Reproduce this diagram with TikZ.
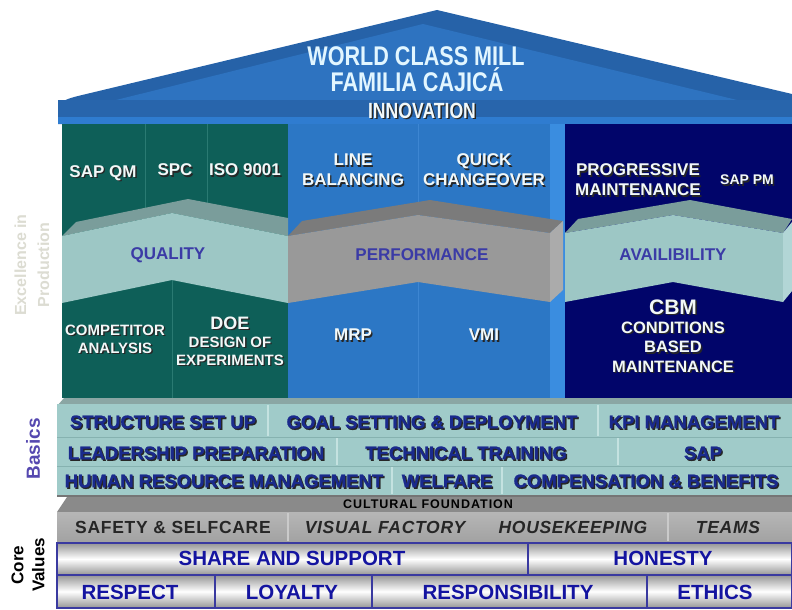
\documentclass[tikz,border=0pt]{standalone}
\usepackage{fontspec}
\setmainfont{Liberation Sans}
\newfontfamily\narrowf[FakeStretch=0.8]{Liberation Sans}
\newfontfamily\heavyf[FakeBold=1.2]{Liberation Sans}
\newfontfamily\cultf[LetterSpace=8]{Liberation Sans}
\newfontfamily\safef[LetterSpace=4]{Liberation Sans}
\usetikzlibrary{shadings}
\definecolor{roofout}{HTML}{2662A8}
\definecolor{roofin}{HTML}{2E73C0}
\definecolor{innov}{HTML}{2865AC}
\definecolor{innovlow}{HTML}{2F7CD0}
\definecolor{qcol}{HTML}{0E5F58}
\definecolor{qline}{HTML}{2A7A72}
\definecolor{pcol}{HTML}{2C77C5}
\definecolor{pline}{HTML}{3D86D2}
\definecolor{pstrip}{HTML}{3A8DE0}
\definecolor{acol}{HTML}{01056A}
\definecolor{bandfront}{HTML}{9DC7C5}
\definecolor{bandtop}{HTML}{7A9D9B}
\definecolor{bandside}{HTML}{B2D6D6}
\definecolor{grayfront}{HTML}{999999}
\definecolor{graytop}{HTML}{7B7B7B}
\definecolor{grayside}{HTML}{ABABAB}
\definecolor{labelblue}{HTML}{3B3BA6}
\definecolor{basicsfill}{HTML}{A0CBC9}
\definecolor{basicsline}{HTML}{86B2B0}
\definecolor{basicssep}{HTML}{C4E2E0}
\definecolor{basicsbevel}{HTML}{8AA6A4}
\definecolor{basicstext}{HTML}{1A2A8C}
\definecolor{culture}{HTML}{8A8A8A}
\definecolor{safetytop}{HTML}{B6B6B6}
\definecolor{safetybot}{HTML}{A2A2A2}
\definecolor{safetysep}{HTML}{CACACA}
\definecolor{safetytext}{HTML}{262626}
\definecolor{coreblue}{HTML}{1414A0}
\definecolor{coreline}{HTML}{3A3AA0}
\definecolor{coregray}{HTML}{959595}
\definecolor{excl}{HTML}{DCDCD2}
\definecolor{basicslbl}{HTML}{5548B0}
\definecolor{titlec}{HTML}{E2F6FF}
\definecolor{whitetxt}{HTML}{F2F8F8}
\newcommand\shtext[4]{%
  \node[#3, text=black!85, xshift=1.4pt, yshift=-1.4pt] (#1s) at (#2) {#4};
  \node[#3] (#1) at (#2) {#4};}
\begin{document}
\begin{tikzpicture}[x=1pt,y=-1pt, inner sep=0pt,
  titlestyle/.style={text=titlec, font=\narrowf\bfseries\fontsize{27}{27}\selectfont},
  innovstyle/.style={text=whitetxt, font=\narrowf\bfseries\fontsize{22}{22}\selectfont},
  toplbl/.style={text=whitetxt, align=center, font=\bfseries\fontsize{17}{20}\selectfont},
  botlbl/.style={text=whitetxt, align=center, font=\bfseries\fontsize{15}{18}\selectfont},
  bandlbl/.style={text=labelblue, font=\bfseries\fontsize{17}{17}\selectfont},
  basicslbl/.style={text=basicstext, font=\heavyf\bfseries\fontsize{18.5}{18.5}\selectfont},
  safelbl/.style={text=safetytext, font=\safef\bfseries\fontsize{17.5}{17.5}\selectfont},
  safeit/.style={text=safetytext, font=\safef\bfseries\itshape\fontsize{17.5}{17.5}\selectfont},
  corelbl/.style={text=coreblue, font=\bfseries\fontsize{20.5}{20.5}\selectfont},
  coreline/.style={draw=coreline, line width=1.2pt},
  qsep/.style={draw=qline, line width=0.8pt},
  psep/.style={draw=pline, line width=0.8pt},
  bsep/.style={draw=basicssep, line width=1.2pt},
  bline/.style={draw=basicsline, line width=1pt}]
\useasboundingbox (0,0) rectangle (792,610);
\fill[white] (0,0) rectangle (792,610);
% ---------- roof ----------
\fill[roofout] (58,124) -- (58,110) .. controls (58,102) and (66,99) .. (78,96) -- (437,10) -- (792,94) -- (792,124) -- cycle;
\fill[roofin] (116,100) -- (423,24) -- (737,100) -- cycle;
\fill[innov] (58,100) rectangle (792,117);
\fill[innovlow] (58,117) rectangle (792,124);
\node[titlestyle] (title1) at (416,56) {WORLD CLASS MILL};
\node[titlestyle] (title2) at (417,80) {FAMILIA CAJICÁ};
\shtext{innovation}{422,111}{innovstyle}{INNOVATION}
% ---------- columns ----------
\fill[qcol] (62,124) rectangle (288,398);
\fill[pcol] (288,124) rectangle (550,398);
\fill[pstrip] (550,124) rectangle (565,398);
\fill[acol] (565,124) rectangle (792,398);
\draw[qsep] (145,124) -- (145,226);
\draw[qsep] (207,124) -- (207,210);
\draw[qsep] (172,280) -- (172,398);
\draw[psep] (418,124) -- (418,215);
\draw[psep] (418,282) -- (418,398);
% ---------- bands ----------
% quality
\fill[bandtop] (62,236) -- (76,222) -- (188,199) -- (288,218) -- (288,236) -- (172,213) -- cycle;
\fill[bandfront] (62,236) -- (172,213) -- (288,236) -- (288,303) -- (172,280) -- (62,303) -- cycle;
% performance
\fill[graytop] (288,236) -- (302,221) -- (430,200) -- (563,221) -- (550,233) -- (418,215) -- cycle;
\fill[grayfront] (288,236) -- (418,215) -- (550,233) -- (550,302) -- (418,282) -- (288,303) -- cycle;
\fill[grayside] (550,233) -- (563,221) -- (563,290) -- (550,302) -- cycle;
% availability
\fill[bandtop] (565,233) -- (578,219) -- (690,200) -- (792,219) -- (783,233) -- (673,215) -- cycle;
\fill[bandfront] (565,233) -- (673,215) -- (783,233) -- (783,302) -- (673,282) -- (565,302) -- cycle;
\fill[bandside] (783,233) -- (792,222) -- (792,291) -- (783,302) -- cycle;
\node[bandlbl] (quality) at (168,255) {QUALITY};
\node[bandlbl] (performance) at (422,255) {PERFORMANCE};
\node[bandlbl] (availibility) at (673,255) {AVAILIBILITY};
% ---------- column labels ----------
\shtext{sapqm}{103,173}{toplbl}{SAP QM}
\shtext{spc}{175,170}{toplbl}{SPC}
\shtext{iso}{245,170}{toplbl}{ISO 9001}
\shtext{linebal}{353,170}{toplbl}{LINE\\BALANCING}
\shtext{quick}{484,170}{toplbl}{QUICK\\CHANGEOVER}
\shtext{progr}{638,180}{toplbl}{PROGRESSIVE\\MAINTENANCE}
\shtext{sappm}{747,180}{toplbl, font=\bfseries\fontsize{14}{14}\selectfont}{SAP PM}
\shtext{compet}{115,339}{botlbl}{COMPETITOR\\ANALYSIS}
\shtext{doe}{230,323}{botlbl, font=\bfseries\fontsize{18}{18}\selectfont}{DOE}
\shtext{design}{230,351}{botlbl}{DESIGN OF\\EXPERIMENTS}
\shtext{mrp}{353,335}{toplbl}{MRP}
\shtext{vmi}{484,335}{toplbl}{VMI}
\shtext{cbm}{673,307}{toplbl, font=\bfseries\fontsize{21}{21}\selectfont}{CBM}
\shtext{cond}{673,347}{toplbl, font=\bfseries\fontsize{16.5}{19.5}\selectfont}{CONDITIONS\\BASED\\MAINTENANCE}
% ---------- basics ----------
\fill[basicsbevel] (57,406) -- (64,398) -- (792,398) -- (792,404) -- (57,404) -- cycle;
\fill[basicsfill] (57,404) rectangle (792,495);
\draw[bline] (57,437) -- (792,437);
\draw[bline] (57,466) -- (792,466);
\draw[bsep] (268,405) -- (268,436);
\draw[bsep] (598,405) -- (598,436);
\draw[bsep] (337,438) -- (337,465);
\draw[bsep] (618,438) -- (618,465);
\draw[bsep] (392,467) -- (392,494);
\draw[bsep] (502,467) -- (502,494);
\shtext{structure}{163,422}{basicslbl}{STRUCTURE SET UP}
\shtext{goal}{432,422}{basicslbl}{GOAL SETTING \& DEPLOYMENT}
\shtext{kpi}{694,422}{basicslbl}{KPI MANAGEMENT}
\shtext{leader}{196,453}{basicslbl}{LEADERSHIP PREPARATION}
\shtext{technical}{466,453}{basicslbl}{TECHNICAL TRAINING}
\shtext{sap}{703,453}{basicslbl}{SAP}
\shtext{human}{224,481}{basicslbl}{HUMAN RESOURCE MANAGEMENT}
\shtext{welfare}{447,481}{basicslbl}{WELFARE}
\shtext{compens}{646,481}{basicslbl}{COMPENSATION \& BENEFITS}
% ---------- cultural foundation ----------
\fill[culture] (57,512) -- (67,497) -- (792,497) -- (792,512) -- cycle;
\fill[culture!85!black] (57,495) rectangle (792,497);
\node[text=black, font=\cultf\bfseries\fontsize{12.5}{12.5}\selectfont] (cultural) at (428,504) {CULTURAL FOUNDATION};
\shade[top color=safetytop, bottom color=safetybot] (57,512) rectangle (792,542);
\draw[draw=safetysep, line width=1.2pt] (288,513) -- (288,541);
\draw[draw=safetysep, line width=1.2pt] (668,513) -- (668,541);
\node[safelbl] (safety) at (173,527) {SAFETY \& SELFCARE};
\node[safeit] (visual) at (385,527) {VISUAL FACTORY};
\node[safeit] (housekeeping) at (573,527) {HOUSEKEEPING};
\node[safeit] (teams) at (728,527) {TEAMS};
% ---------- core values ----------
\shade[top color=coregray, bottom color=coregray, middle color=white] (57,543) rectangle (792,575);
\shade[top color=coregray, bottom color=coregray, middle color=white] (57,575) rectangle (792,608);
\draw[coreline] (57,543) rectangle (792,575);
\draw[coreline] (57,575) rectangle (792,608);
\draw[coreline] (528,543) -- (528,575);
\draw[coreline] (215,575) -- (215,608);
\draw[coreline] (372,575) -- (372,608);
\draw[coreline] (647,575) -- (647,608);
\node[corelbl] (share) at (292,558) {SHARE AND SUPPORT};
\node[corelbl] (honesty) at (663,558) {HONESTY};
\node[corelbl] (respect) at (130,592) {RESPECT};
\node[corelbl] (loyalty) at (292,592) {LOYALTY};
\node[corelbl] (respons) at (508,592) {RESPONSIBILITY};
\node[corelbl] (ethics) at (715,592) {ETHICS};
% ---------- side labels ----------
\node[rotate=90, text=excl, align=center, font=\bfseries\fontsize{16}{23}\selectfont] (excellence) at (32,265) {Excellence in\\Production};
\node[rotate=90, text=basicslbl, font=\bfseries\fontsize{19}{19}\selectfont] (basics) at (33,449) {Basics};
\node[rotate=90, text=black, align=center, font=\bfseries\fontsize{17}{21}\selectfont] (corevalues) at (28,565) {Core\\Values};
\end{tikzpicture}
\end{document}
